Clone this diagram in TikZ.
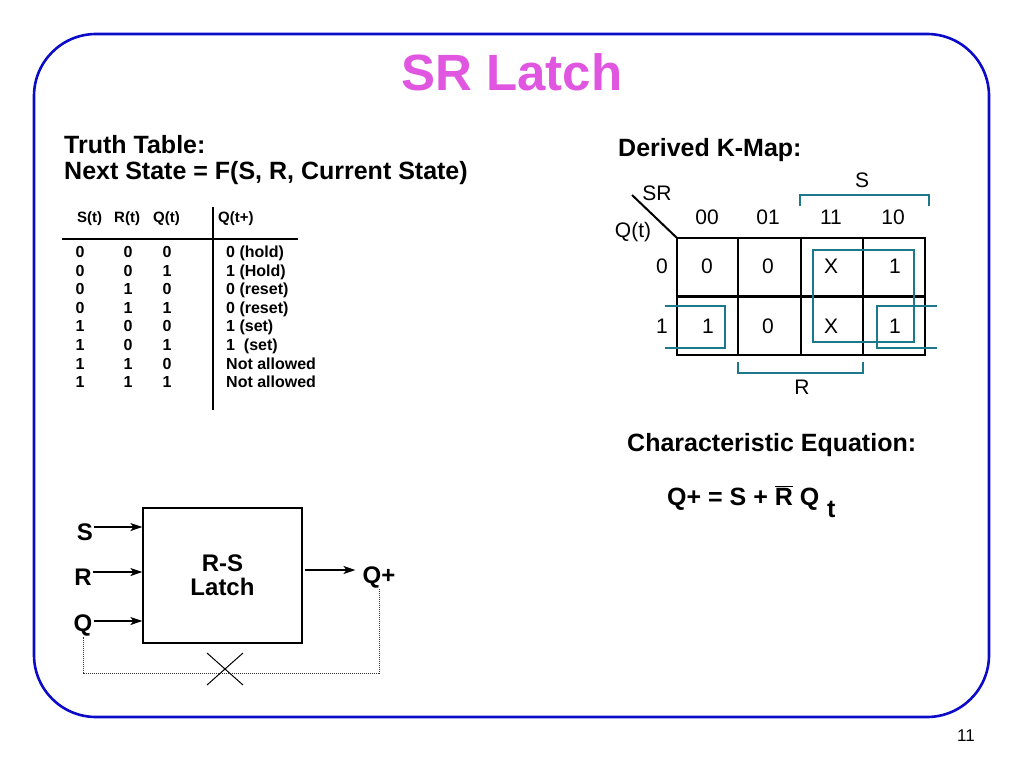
\documentclass[tikz,border=0pt]{standalone}
\usepackage{fontspec}
\setmainfont{Liberation Sans}
\usetikzlibrary{arrows.meta}
\definecolor{bordblue}{RGB}{12,12,200}
\definecolor{titlemag}{RGB}{224,86,224}
\definecolor{kteal}{RGB}{30,120,140}
\tikzset{
  head/.style={font=\fontsize{25}{30}\selectfont\bfseries, anchor=base west, inner sep=0pt},
  th/.style={font=\fontsize{15}{18}\selectfont\bfseries, anchor=base west, inner sep=0pt},
  tc/.style={font=\fontsize{16}{18}\selectfont\bfseries, anchor=base, inner sep=0pt},
  tv/.style={font=\fontsize{16}{18}\selectfont\bfseries, anchor=base west, inner sep=0pt},
  kl/.style={font=\fontsize{21}{24}\selectfont, inner sep=0pt},
  grid/.style={line width=2.6pt},
  tealline/.style={kteal, line width=2.2pt},
  lab/.style={font=\fontsize{24}{28}\selectfont\bfseries, inner sep=1pt},
  arr/.style={-{Stealth[length=12pt,width=8pt,inset=3pt]}, line width=1.3pt},
  fb/.style={densely dotted, line width=1pt, black!80}
}
\begin{document}
\begin{tikzpicture}[x=1pt,y=-1pt]
\useasboundingbox (0,0) rectangle (1024,768);
% frame
\draw[bordblue, line width=2.6pt, rounded corners=62pt] (34,34) rectangle (989,717);
% title
\node[font=\fontsize{51}{60}\selectfont\bfseries, text=titlemag, anchor=base, inner sep=0pt] (title) at (512,90) {SR Latch};
% truth table headings
\node[head] (tt1) at (64,153) {Truth Table:};
\node[head] (tt2) at (64,179) {Next State = F(S, R, Current State)};
\node[th] (hs) at (77,222) {S(t)};
\node[th] (hr) at (114,222) {R(t)};
\node[th] (hq) at (153,222) {Q(t)};
\node[th] (hn) at (218,222) {Q(t+)};
\draw[line width=1.6pt] (62,239) -- (298,239);
\draw[line width=1.6pt] (213,207) -- (213,410);
% rows
\foreach \s/\r/\q/\v [count=\i from 0] in {0/0/0/{0 (hold)},0/0/1/{1 (Hold)},0/1/0/{0 (reset)},0/1/1/{0 (reset)},1/0/0/{1 (set)},1/0/1/{1\ \ (set)},1/1/0/{Not allowed},1/1/1/{Not allowed}}{
  \node[tc] (s\i) at (80,{257.5+18.6*\i}) {\s};
  \node[tc] (r\i) at (128,{257.5+18.6*\i}) {\r};
  \node[tc] (q\i) at (167,{257.5+18.6*\i}) {\q};
  \node[tv] (v\i) at (226,{257.5+18.6*\i}) {\v};
}
% K-map
\node[head] (km) at (618,156) {Derived K-Map:};
\draw[grid] (677,238) rectangle (925,355);
\draw[grid] (677,296.5) -- (925,296.5);
\draw[grid] (738,238) -- (738,355);
\draw[grid] (801,238) -- (801,355);
\draw[grid] (863,238) -- (863,355);
\draw[line width=2pt] (632,195) -- (677,238);
\node[kl] (srl) at (657,193) {SR};
\node[kl] (qtl) at (633,232) {Q(t)};
\node[kl] (c00) at (707,217) {00};
\node[kl] (c01) at (768,217) {01};
\node[kl] (c11) at (831,217) {11};
\node[kl] (c10) at (893,217) {10};
\node[kl] (r0) at (662,266) {0};
\node[kl] (r1) at (662,326) {1};
\node[kl] (m00) at (707,266) {0};
\node[kl] (m01) at (768,266) {0};
\node[kl] (m11) at (831,266) {X};
\node[kl] (m10) at (895,266) {1};
\node[kl] (n00) at (708,326) {1};
\node[kl] (n01) at (768,326) {0};
\node[kl] (n11) at (831,326) {X};
\node[kl] (n10) at (895,326) {1};
% teal groupings
\draw[tealline] (800,206) -- (800,195) -- (929,195) -- (929,206);
\node[kl] (slab) at (862,180) {S};
\draw[tealline] (738,362) -- (738,373) -- (863,373) -- (863,362);
\node[kl] (rlab) at (802,387) {R};
\draw[tealline] (813,250) rectangle (914,342);
\draw[tealline] (665,306) -- (725,306) -- (725,348) -- (665,348);
\draw[tealline] (937,306) -- (877,306) -- (877,348) -- (937,348);
% characteristic equation
\node[head] (ce) at (627,451) {Characteristic Equation:};
\node[head] (eq) at (667,505) {Q+ = S + $\overline{\mbox{R}}$ Q};
\node[head] (eqt) at (827,517) {t};
% block diagram
\node[draw, line width=1.2pt, minimum width=159pt, minimum height=135pt, align=center,
      font=\fontsize{24}{24}\selectfont\bfseries] (box) at (222.5,575.5) {R-S\\Latch};
\node[lab] (sin) at (85,532) {S};
\node[lab] (rin) at (83,577) {R};
\node[lab] (qin) at (83,625) {Q};
\node[lab] (qout) at (379,577) {Q+};
\draw[arr] ([yshift=5pt]sin.east) -- ([yshift=5pt]box.west |- sin.east);
\draw[arr] ([yshift=5pt]rin.east) -- ([yshift=5pt]box.west |- rin.east);
\draw[arr] ([yshift=4pt]qin.east) -- ([yshift=4pt]box.west |- qin.east);
\coordinate (oy) at (305,570);
\draw[arr] (oy) -- ([xshift=-6pt]oy -| qout.west);
\coordinate (fbl) at (0,673);
\draw[fb] (qout.south) -- (qout.south |- fbl) -| (qin.south);
\draw[line width=1pt] (207,653) -- (243,685);
\draw[line width=1pt] (243,653) -- (207,685);
% page number
\node[font=\fontsize{17}{19}\selectfont, anchor=base, inner sep=0pt] (pg) at (966,741) {11};
\end{tikzpicture}
\end{document}
